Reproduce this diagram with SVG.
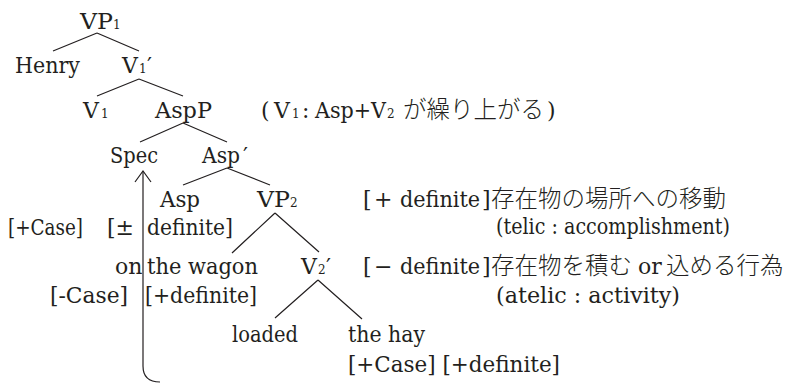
<svg xmlns="http://www.w3.org/2000/svg" width="793" height="383" viewBox="0 0 793 383">
<style>
text{font-family:"DejaVu Serif","Liberation Serif",serif;font-size:22px;fill:#231f20}
.sub{font-size:12px}
.jp{font-family:"Noto Sans CJK JP",sans-serif;font-size:23.5px;font-weight:300}
.br{stroke:#231f20;stroke-width:1.2;fill:none}
</style>
<g id="connectors" class="br">
<path d="M97,33 L53,51 M97,33 L139,51"/>
<path d="M139,79 L97,96 M139,79 L183,96"/>
<path d="M183,123 L140,142 M183,123 L227,142"/>
<path d="M227,168 L183,185 M227,168 L270,185"/>
<path d="M275,213 L232,253 M275,213 L319,252"/>
<path d="M318,280 L275,318 M318,280 L362,319"/>
<path id="movement" d="M160,382 Q143,382 143,366 L143,171"/>
<path d="M135,182 L143,171 L151,182"/>
</g>
<g id="VP1"><text x="80" y="29"><tspan textLength="33" lengthAdjust="spacingAndGlyphs">VP</tspan><tspan class="sub" x="113">1</tspan></text></g>
<g id="Henry"><text x="15" y="73" textLength="65" lengthAdjust="spacingAndGlyphs">Henry</text></g>
<g id="V1bar"><text x="122" y="73">V<tspan class="sub" x="139">1</tspan><tspan x="147">′</tspan></text></g>
<g id="V1"><text x="83" y="118">V<tspan class="sub" x="101">1</tspan></text></g>
<g id="AspP"><text x="155" y="118" textLength="57" lengthAdjust="spacingAndGlyphs">AspP</text></g>
<g id="note-raise"><text y="118"><tspan x="261">(</tspan><tspan x="274">V</tspan><tspan class="sub" x="292">1</tspan><tspan x="302">:</tspan><tspan x="315" textLength="71" lengthAdjust="spacingAndGlyphs">Asp+V</tspan><tspan class="sub" x="387">2</tspan><tspan class="jp" x="403">が繰り上がる</tspan><tspan x="547">)</tspan></text></g>
<g id="Spec"><text x="110" y="163" textLength="48" lengthAdjust="spacingAndGlyphs">Spec</text></g>
<g id="AspBar"><text x="202" y="163"><tspan textLength="38" lengthAdjust="spacingAndGlyphs">Asp</tspan><tspan x="243">′</tspan></text></g>
<g id="Asp"><text x="160" y="207" textLength="40" lengthAdjust="spacingAndGlyphs">Asp</text></g>
<g id="VP2"><text x="257" y="207"><tspan textLength="33" lengthAdjust="spacingAndGlyphs">VP</tspan><tspan class="sub" x="290">2</tspan></text></g>
<g id="feat-wagon"><text y="235"><tspan x="8" textLength="75" lengthAdjust="spacingAndGlyphs">[+Case]</tspan><tspan x="107">[±</tspan><tspan x="147" textLength="86" lengthAdjust="spacingAndGlyphs">definite]</tspan></text></g>
<g id="on-the-wagon"><text y="274"><tspan x="115">on</tspan><tspan x="147" textLength="111" lengthAdjust="spacingAndGlyphs">the wagon</tspan></text></g>
<g id="V2bar"><text x="301" y="274">V<tspan class="sub" x="318">2</tspan><tspan x="326">′</tspan></text></g>
<g id="feat-wagon2"><text y="303"><tspan x="50" textLength="78" lengthAdjust="spacingAndGlyphs">[-Case]</tspan><tspan x="145" textLength="112" lengthAdjust="spacingAndGlyphs">[+definite]</tspan></text></g>
<g id="loaded"><text x="232" y="342" textLength="66" lengthAdjust="spacingAndGlyphs">loaded</text></g>
<g id="the-hay"><text x="348" y="342" textLength="77" lengthAdjust="spacingAndGlyphs">the hay</text></g>
<g id="feat-hay"><text x="348" y="372" textLength="212" lengthAdjust="spacingAndGlyphs">[+Case] [+definite]</text></g>
<g id="note-telic">
<text y="207"><tspan x="363">[</tspan><tspan x="374">+</tspan><tspan x="400" textLength="80" lengthAdjust="spacingAndGlyphs">definite</tspan><tspan x="482">]</tspan><tspan class="jp" x="491">存在物の場所への移動</tspan></text>
<text x="496" y="234" textLength="234" lengthAdjust="spacingAndGlyphs">(telic : accomplishment)</text>
</g>
<g id="note-atelic">
<text y="274"><tspan x="363">[</tspan><tspan x="374">−</tspan><tspan x="400" textLength="80" lengthAdjust="spacingAndGlyphs">definite</tspan><tspan x="482">]</tspan><tspan class="jp" x="491">存在物を積む</tspan><tspan x="638">or</tspan><tspan class="jp" x="666">込める行為</tspan></text>
<text x="496" y="303" textLength="184" lengthAdjust="spacingAndGlyphs">(atelic : activity)</text>
</g>
</svg>
